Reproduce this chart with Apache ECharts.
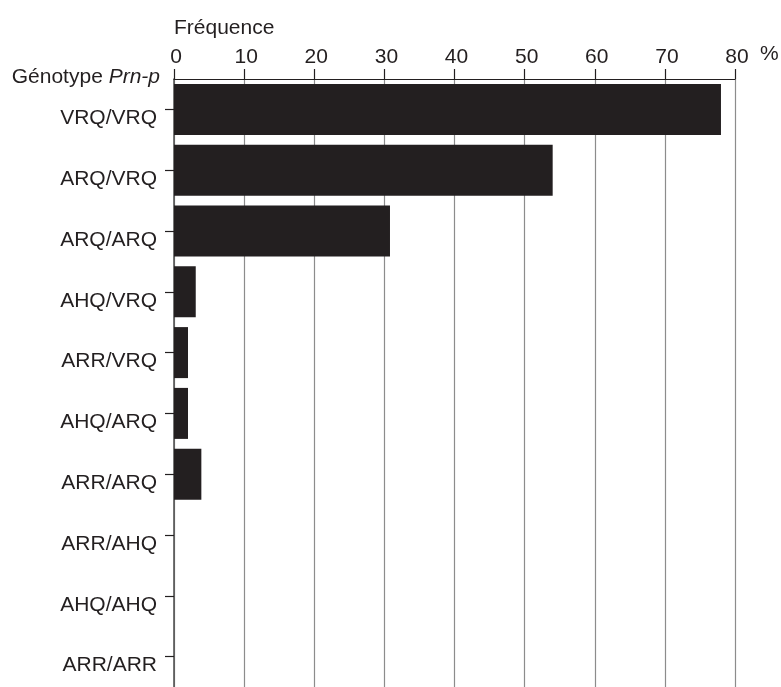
<!DOCTYPE html>
<html>
<head>
<meta charset="utf-8">
<script src="https://cdn.jsdelivr.net/npm/echarts@6/dist/echarts.min.js"></script>
<style>
html,body{margin:0;padding:0;background:#fff;}
#chart{width:781px;height:687px;}
</style>
</head>
<body>
<div id="chart"></div>
<script>
const categories = ['VRQ/VRQ','ARQ/VRQ','ARQ/ARQ','AHQ/VRQ','ARR/VRQ','AHQ/ARQ','ARR/ARQ','ARR/AHQ','AHQ/AHQ','ARR/ARR'];
const frequencies = [78, 54, 30.8, 3.1, 2, 2, 3.9, 0, 0, 0];
const xTicks = [0, 10, 20, 30, 40, 50, 60, 70, 80];
const xTitle = 'Fréquence';
const yTitle = 'Génotype ';
const yTitleItalic = 'Prn-p';
const unit = '%';

const FONT = '"Liberation Sans", Arial, Helvetica, sans-serif';
const INK = '#231f20';

const chart = echarts.init(document.getElementById('chart'));
chart.setOption({
  animation: false,
  backgroundColor: '#fff',
  grid: { left: 174, right: 46, top: 79, height: 614, containLabel: false },
  xAxis: {
    type: 'value',
    position: 'top',
    min: xTicks[0],
    max: xTicks[xTicks.length - 1],
    interval: xTicks[1] - xTicks[0],
    axisLine: { show: true, lineStyle: { color: INK, width: 1.2 } },
    axisTick: { show: true, length: 10, lineStyle: { color: INK, width: 1.2 } },
    axisLabel: { color: INK, fontFamily: FONT, fontSize: 21, margin: 11, padding: [0, 0, 0, 4] },
    splitLine: { show: true, lineStyle: { color: '#8c8c8c', width: 1.2 } }
  },
  yAxis: {
    type: 'category',
    inverse: true,
    data: categories,
    axisLine: { show: true, lineStyle: { color: '#555', width: 1.6 } },
    axisTick: { show: true, alignWithLabel: true, length: 9, lineStyle: { color: INK, width: 1.2 } },
    axisLabel: { color: INK, fontFamily: FONT, fontSize: 21, margin: 17, verticalAlign: 'top', lineHeight: 18 },
    splitLine: { show: false }
  },
  series: [{
    type: 'bar',
    data: frequencies,
    barWidth: 51,
    itemStyle: { color: INK },
    z: 3
  }],
  graphic: [
    { type: 'text', left: 174, top: 18, style: { text: xTitle, fill: INK, font: '21px ' + FONT } },
    { type: 'text', left: 760, top: 44, style: { text: unit, fill: INK, font: '21px ' + FONT } },
    { type: 'text', right: 621, top: 67, style: {
        text: '{a|' + yTitle + '}{b|' + yTitleItalic + '}',
        rich: {
          a: { fill: INK, fontFamily: FONT, fontSize: 21 },
          b: { fill: INK, fontFamily: FONT, fontSize: 21, fontStyle: 'italic' }
        }
      } }
  ]
});
</script>
</body>
</html>
